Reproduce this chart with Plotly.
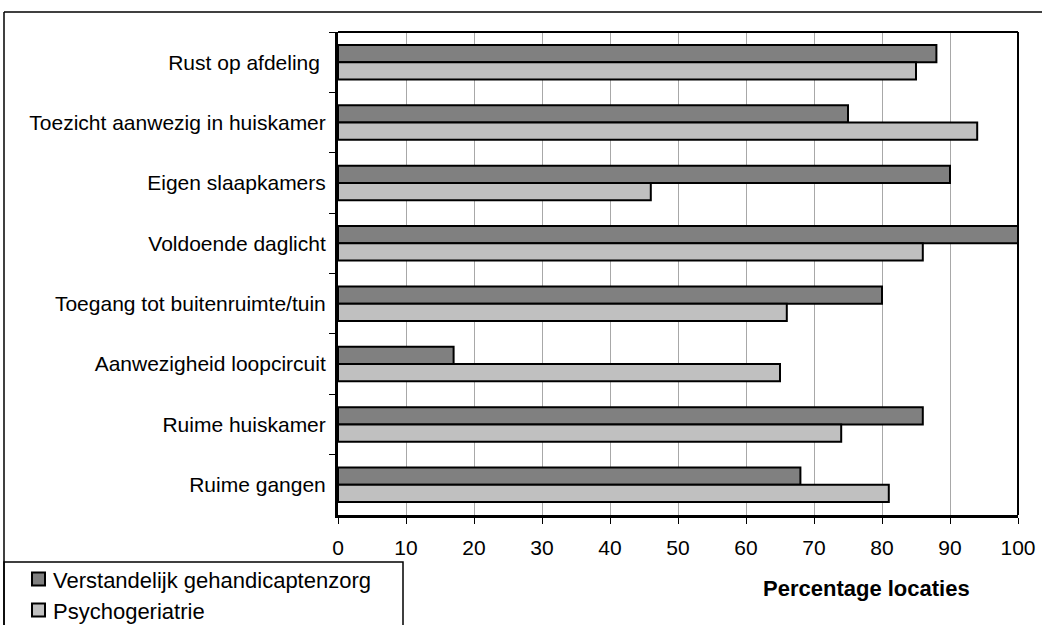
import plotly.graph_objects as go

categories = [
    "Rust op afdeling ",
    "Toezicht aanwezig in huiskamer",
    "Eigen slaapkamers",
    "Voldoende daglicht",
    "Toegang tot buitenruimte/tuin",
    "Aanwezigheid loopcircuit",
    "Ruime huiskamer",
    "Ruime gangen",
]
vg_values = [88, 75, 90, 100, 80, 17, 86, 68]
pg_values = [85, 94, 46, 86, 66, 65, 74, 81]
series_names = ["Verstandelijk gehandicaptenzorg", "Psychogeriatrie"]
series_colors = ["#808080", "#c0c0c0"]
x_ticks = [0, 10, 20, 30, 40, 50, 60, 70, 80, 90, 100]
x_title = "Percentage locaties"

W, H = 1042, 625
L, R, T, B = 338, 1018, 32, 515
FONT = "Liberation Sans, Arial, sans-serif"


def px(x):
    return (x - L) / (R - L)


def py(y):
    return (B - y) / (B - T)


fig = go.Figure()
for name, vals, col in zip(series_names, [vg_values, pg_values], series_colors):
    fig.add_trace(go.Bar(
        y=categories, x=vals, name=name, orientation="h",
        marker=dict(color=col, line=dict(color="black", width=2)),
    ))

shapes = [
    # outer chart border (left and top)
    dict(type="line", xref="paper", yref="paper", x0=px(4), y0=py(640), x1=px(4), y1=py(12),
         line=dict(color="black", width=1.5)),
    dict(type="line", xref="paper", yref="paper", x0=px(4), y0=py(12), x1=px(1060), y1=py(12),
         line=dict(color="black", width=1.5)),
    # legend box
    dict(type="rect", xref="paper", yref="paper", x0=px(4), y0=py(640), x1=px(403), y1=py(562),
         line=dict(color="black", width=1.5), fillcolor="white", layer="below"),
    # plot frame top and right
    dict(type="line", xref="paper", yref="paper", x0=0, y0=1, x1=1, y1=1,
         line=dict(color="black", width=2)),
    dict(type="line", xref="paper", yref="paper", x0=1, y0=0, x1=1, y1=1,
         line=dict(color="black", width=2)),
]

annotations = [dict(
    text="<b>" + x_title + "</b>", xref="paper", yref="paper",
    x=px(866), y=py(588), xanchor="center", yanchor="middle", showarrow=False,
    font=dict(size=22, family=FONT),
)]

# legend (drawn manually so it does not push the plot margins)
legend_rows = [579, 610]
for name, col, yc in zip(series_names, series_colors, legend_rows):
    shapes.append(dict(
        type="rect", xref="paper", yref="paper",
        x0=px(32), x1=px(45), y0=py(yc + 6.5), y1=py(yc - 6.5),
        fillcolor=col, line=dict(color="black", width=2),
    ))
    annotations.append(dict(
        text=name, xref="paper", yref="paper", x=px(51), y=py(yc + 1),
        xanchor="left", yanchor="middle", showarrow=False,
        font=dict(size=22, family=FONT),
    ))

fig.update_layout(
    width=W, height=H,
    margin=dict(l=L, r=W - R, t=T, b=H - B, pad=0, autoexpand=False),
    paper_bgcolor="white", plot_bgcolor="white",
    barmode="group", bargap=0.43, bargroupgap=0,
    font=dict(family=FONT, color="black", size=21),
    showlegend=False,
    shapes=shapes,
    annotations=annotations,
)

fig.update_xaxes(
    range=[0, 100], tickvals=x_ticks, ticktext=[str(v) for v in x_ticks],
    showgrid=True, gridcolor="#a8a8a8", gridwidth=1,
    showline=True, linecolor="black", linewidth=3, mirror=False,
    ticks="outside", ticklen=6, tickcolor="black", tickwidth=1,
    ticklabelstandoff=6,
    tickfont=dict(size=21), zeroline=False, fixedrange=True,
)
fig.update_yaxes(
    type="category", categoryorder="array", categoryarray=categories,
    autorange="reversed",
    showgrid=False,
    showline=True, linecolor="black", linewidth=3, mirror=False,
    ticks="outside", tickson="boundaries", ticklen=6, tickcolor="black", tickwidth=1,
    ticklabelstandoff=5,
    tickfont=dict(size=21), fixedrange=True,
)

fig.write_html(
    "out.html",
    config={"displayModeBar": False},
    post_script="document.body.style.margin='0';document.body.style.padding='0';",
)
